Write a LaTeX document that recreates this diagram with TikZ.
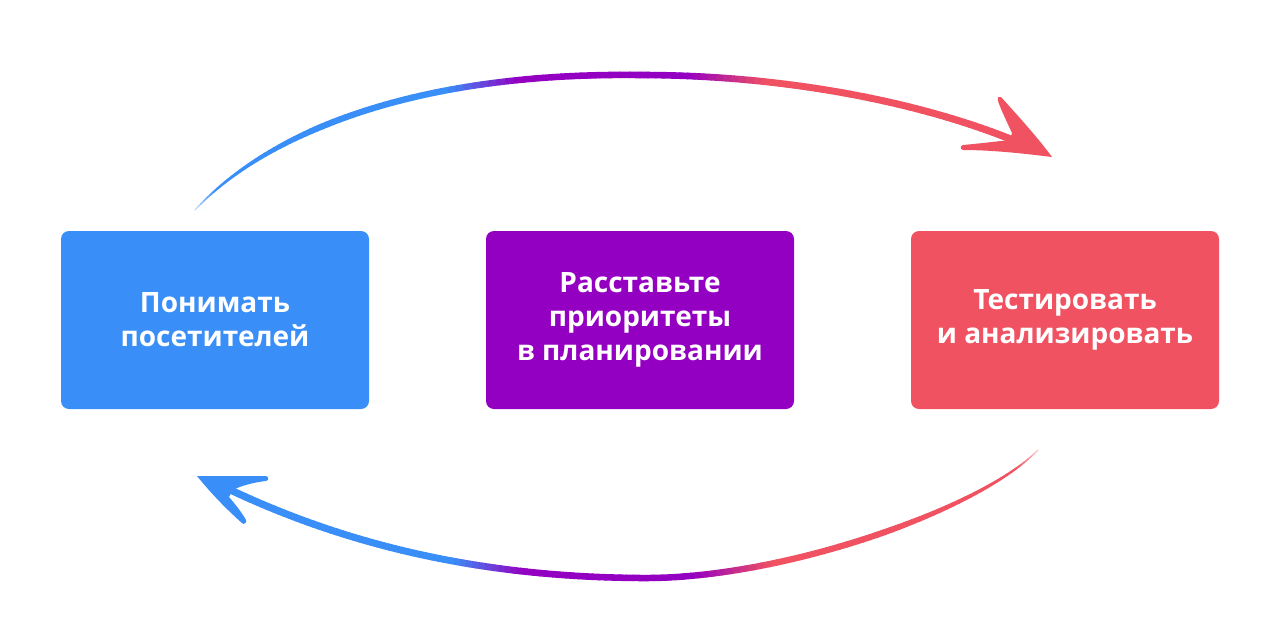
\documentclass[tikz,border=0pt]{standalone}
\usepackage{fontspec}
\setmainfont{Open Sans}
\definecolor{cblue}{RGB}{57,142,247}
\definecolor{cpurple}{RGB}{148,0,194}
\definecolor{cred}{RGB}{240,82,97}
\tikzset{box/.style={rounded corners=8pt, minimum width=308pt, minimum height=178pt,
  inner sep=0pt, text=white, align=center, font=\bfseries\fontsize{28}{34}\selectfont}}
% gradient cubic bezier: #1..#8 = x0 y0 x1 y1 x2 y2 x3 y3 ; uses \nseg \ustart \uend
\newcommand\gbez[8]{%
\foreach \i in {1,...,\nseg}{%
 \pgfmathsetmacro\gtA{(\i-1)/\nseg}%
 \pgfmathsetmacro\gtB{\i/\nseg}%
 \pgfmathsetmacro\gxa{(1-\gtA)*(1-\gtA)*(1-\gtA)*#1+3*(1-\gtA)*(1-\gtA)*\gtA*#3+3*(1-\gtA)*\gtA*\gtA*#5+\gtA*\gtA*\gtA*#7}%
 \pgfmathsetmacro\gya{(1-\gtA)*(1-\gtA)*(1-\gtA)*#2+3*(1-\gtA)*(1-\gtA)*\gtA*#4+3*(1-\gtA)*\gtA*\gtA*#6+\gtA*\gtA*\gtA*#8}%
 \pgfmathsetmacro\gxb{(1-\gtB)*(1-\gtB)*(1-\gtB)*#1+3*(1-\gtB)*(1-\gtB)*\gtB*#3+3*(1-\gtB)*\gtB*\gtB*#5+\gtB*\gtB*\gtB*#7}%
 \pgfmathsetmacro\gyb{(1-\gtB)*(1-\gtB)*(1-\gtB)*#2+3*(1-\gtB)*(1-\gtB)*\gtB*#4+3*(1-\gtB)*\gtB*\gtB*#6+\gtB*\gtB*\gtB*#8}%
 \pgfmathsetmacro\gxm{(\gxa+\gxb)/2}%
 \pgfmathsetmacro\gpP{100*max(0,min(1,(\gxm-450)/70))}%
 \pgfmathsetmacro\gpR{100*max(0,min(1,(\gxm-690)/80))}%
 \pgfmathsetmacro\guu{\ustart+(\uend-\ustart)*(\gtA+\gtB)/2}%
 \pgfmathsetmacro\gltn{min(100,30+1400*\guu)}%
 \pgfmathsetmacro\glw{1+4.8*min(1,\guu/0.22)+1.5*\guu}%
 \colorlet{cA}{cpurple!\gpP!cblue}%
 \colorlet{cB}{cred!\gpR!cA}%
 \colorlet{cC}{cB!\gltn!white}%
 \draw[line width=\glw pt, cC, line cap=round] (\gxa,\gya) -- (\gxb,\gyb);
}}
\begin{document}
\begin{tikzpicture}[x=1pt,y=-1pt]
\useasboundingbox[fill=white] (0,0) rectangle (1280,638);

\node[box, fill=cblue]   (n1) at (215,320) {Понимать\\посетителей};
\node[box, fill=cpurple] (n2) at (640,320) {Расставьте\\приоритеты\\в планировании};
\node[box, fill=cred]    (n3) at (1065,320) {Тестировать\\и анализировать};

% top arc
\def\nseg{70}\def\ustart{0}\def\uend{0.52}
\gbez{195}{210}{260}{140}{400}{72}{640}{75}
\def\nseg{60}\def\ustart{0.52}\def\uend{1}
\gbez{640}{75}{800}{75}{945}{108}{1036}{150}
\fill[cred] (1001,97) .. controls (1020,118) and (1038,138) .. (1052,157)
  .. controls (1020,153) and (990,150) .. (963,150)
  .. controls (960,149) and (960,146) .. (963,145)
  .. controls (985,143) and (1000,141) .. (1010,140)
  -- (1012,133) .. controls (1007,122) and (1001,110) .. (998,101)
  .. controls (997,97) and (999,96) .. (1001,97) -- cycle;

% bottom arc
\def\nseg{60}\def\ustart{0}\def\uend{0.47}
\gbez{1038}{450}{980}{510}{780}{580}{640}{578}
\def\nseg{70}\def\ustart{0.47}\def\uend{1}
\gbez{640}{578}{480}{577}{340}{545}{212}{481}
\fill[cblue] (197,476) .. controls (220,476) and (245,476) .. (266,476)
  .. controls (269,477) and (269,480) .. (266,481)
  .. controls (255,482) and (240,486) .. (233,490)
  -- (229,497) .. controls (236,505) and (242,513) .. (246,520)
  .. controls (247,523) and (244,525) .. (242,523)
  .. controls (225,508) and (210,492) .. (197,476) -- cycle;
\end{tikzpicture}
\end{document}
